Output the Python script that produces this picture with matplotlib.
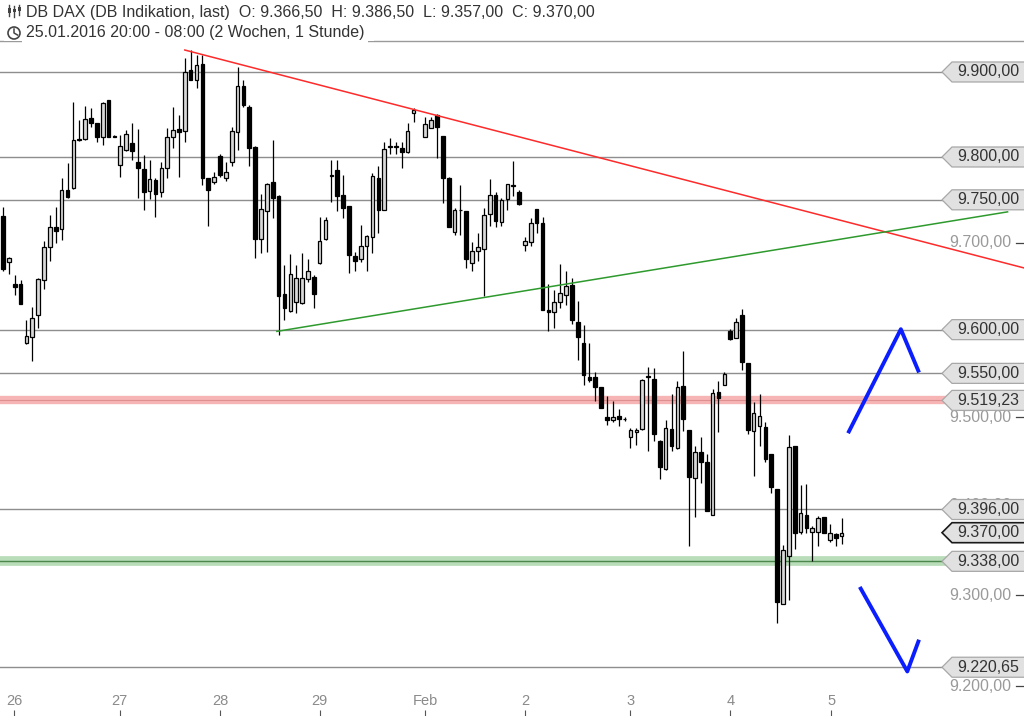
import matplotlib
matplotlib.use('Agg')
import matplotlib.pyplot as plt
import matplotlib.transforms as mtransforms
from matplotlib.patches import Polygon, Rectangle, Circle
from matplotlib.lines import Line2D
from matplotlib.ticker import NullLocator
import numpy as np

plt.rcParams['font.family'] = ['Liberation Sans', 'DejaVu Sans']

# Stundenkerzen DB DAX, 25.01.2016 20:00 - 05.02.2016 08:00 (None = Lücke)
nan = None
opens = [9731, 9678, 9652, 9652, 9585, 9592, 9617, 9657, 9695, 9718,
         9716, 9761, 9764, 9820, 9821, 9846, 9840, 9823, 9867, 9825,
         9791, 9808, 9816, 9794, 9786, 9760, 9773, 9759, 9787, 9823,
         9833, 9831, 9902, 9891, 9909, 9775, 9771, 9801, 9776, 9794,
         9829, 9884, 9859, 9812, 9705, 9737, 9771, 9754, 9641, 9621,
         9632, 9631, 9658, 9660, 9677, 9705, 9778, 9785, 9756, 9743,
         9685, 9681, 9696, 9707, 9776, 9738, 9812, 9812, 9811, 9806,
         9852, nan, 9824, 9834, 9849, 9825, 9775, 9713, 9738, 9737,
         9677, 9691, 9693, 9734, 9756, 9724, 9751, 9766, 9759, 9698,
         9701, 9739, 9723, 9623, 9620, 9632, 9640, 9651, 9609, 9585,
         9546, 9546, 9535, 9500, 9497, 9502, 9498, 9478, 9483, 9487,
         9546, 9544, 9473, 9441, 9487, 9465, 9536, 9486, 9431, 9461,
         9449, 9390, 9529, 9537, 9599, 9590, 9617, 9562, 9485, 9490,
         9489, 9458, 9419, 9291, 9344, 9468, 9371, 9390, 9371, 9371,
         9388, 9362, 9368, 9366.5]
highs = [9742, 9684, 9663, 9657, 9611, 9626, 9659, 9702, 9732, 9742,
         9775, 9793, 9864, 9843, 9860, 9857, 9840, 9864, 9867, 9826,
         9826, 9832, 9840, 9833, 9802, 9796, 9775, 9794, 9834, 9859,
         9849, 9916, 9926, 9920, 9920, 9775, 9783, 9803, 9794, 9835,
         9906, 9891, 9861, 9813, 9757, 9770, 9820, 9756, 9674, 9687,
         9674, 9688, 9681, 9663, 9730, 9730, 9796, 9796, 9779, 9743,
         9690, 9721, 9709, 9781, 9789, 9818, 9822, 9818, 9818, 9840,
         9857, nan, 9847, 9847, 9850, 9825, 9777, 9741, 9767, 9737,
         9701, 9711, 9741, 9774, 9759, 9752, 9769, 9795, 9761, 9707,
         9729, 9739, 9730, 9653, 9646, 9675, 9668, 9659, 9633, 9605,
         9585, 9552, 9535, 9524, 9518, 9509, 9500, 9488, 9488, 9544,
         9557, 9556, 9474, 9497, 9526, 9541, 9575, 9486, 9467, 9478,
         9459, 9532, 9541, 9551, 9601, 9613, 9624, 9562, 9517, 9527,
         9495, 9458, 9419, 9356, 9480, 9468, 9423, 9425, 9377, 9389,
         9388, 9380, 9370, 9386.5]
lows = [9668, 9664, 9640, 9629, 9584, 9564, 9602, 9647, 9679, 9700,
        9703, 9752, 9763, 9819, 9820, 9835, 9817, 9814, 9823, 9823,
        9777, 9807, 9796, 9752, 9738, 9751, 9730, 9753, 9775, 9810,
        9777, 9817, 9890, 9881, 9767, 9719, 9769, 9777, 9772, 9789,
        9808, 9859, 9789, 9683, 9688, 9690, 9729, 9594, 9611, 9620,
        9619, 9630, 9655, 9625, 9676, 9703, 9747, 9737, 9729, 9665,
        9667, 9678, 9667, 9688, 9711, 9738, 9804, 9804, 9787, 9805,
        9841, nan, 9824, 9834, 9799, 9746, 9718, 9709, 9709, 9671,
        9667, 9679, 9639, 9720, 9718, 9719, 9738, 9754, 9744, 9691,
        9696, 9711, 9623, 9599, 9602, 9625, 9628, 9607, 9565, 9537,
        9540, 9518, 9511, 9491, 9495, 9490, 9496, 9465, 9469, 9486,
        9462, 9473, 9430, 9440, 9462, 9464, 9484, 9355, 9388, 9426,
        9394, 9390, 9483, 9537, 9588, 9590, 9554, 9481, 9434, 9468,
        9450, 9415, 9270, 9291, 9295, 9352, 9368, 9370, 9338, 9355,
        9370, 9360, 9355, 9357]
closes = [9670, 9683, 9649, 9630, 9593, 9613, 9658, 9695, 9718, 9714,
          9761, 9753, 9820, 9821, 9844, 9840, 9823, 9863, 9823, 9824,
          9813, 9827, 9807, 9787, 9759, 9774, 9757, 9787, 9823, 9832,
          9829, 9900, 9891, 9908, 9775, 9762, 9777, 9779, 9783, 9831,
          9883, 9861, 9811, 9705, 9739, 9769, 9752, 9639, 9625, 9664,
          9659, 9659, 9667, 9641, 9702, 9727, 9778, 9754, 9741, 9686,
          9679, 9696, 9708, 9778, 9738, 9809, 9813, 9812, 9806, 9831,
          9855, nan, 9839, 9843, 9835, 9775, 9718, 9738, 9738, 9681,
          9691, 9695, 9732, 9756, 9725, 9750, 9769, 9767, 9745, 9702,
          9723, 9723, 9623, 9620, 9632, 9642, 9650, 9611, 9591, 9548,
          9543, 9535, 9511, 9497, 9500, 9498, 9498, 9486, 9486, 9543,
          9547, 9481, 9444, 9488, 9468, 9535, 9498, 9432, 9461, 9449,
          9394, 9528, 9522, 9549, 9589, 9609, 9563, 9486, 9505, 9501,
          9453, 9421, 9293, 9351, 9466, 9370, 9392, 9375, 9375, 9387,
          9370, 9370, 9364, 9370]

day_pos = [1.9, 19.9, 37, 54, 72, 89, 107, 124, 141.2]
day_labels = ['26', '27', '28', '29', 'Feb', '2', '3', '4', '5']

# sichtbare Achsenbeschriftungen (9.600/9.800/9.900 liegen unter den Kästen)
axis_prices = [9200, 9300, 9400, 9500, 9700]
gray_levels = [9900, 9800, 9750, 9600, 9550, 9396, 9220.65]
red_level = 9519.23
green_level = 9338
last_price = 9370

# Trendlinien und Pfeile (Kerzenindex, Kurs)
red_x, red_y = [31.0, 174.1], [9926, 9671]
green_x, green_y = [46.7, 171.3], [9598, 9736]
up_x, up_y = [144.1, 153.1, 156.2], [9482, 9600.5, 9551]
down_x, down_y = [146.1, 154.2, 156.2], [9309.5, 9216, 9251]


def de(v):
    s = f"{v:,.2f}"
    return s.replace(',', 'X').replace('.', ',').replace('X', '.')


W, H = 1024, 716
fig = plt.figure(figsize=(W / 100, H / 100), dpi=100)
ax = fig.add_axes([0, 0, 1, 675 / H])
ax.set_yscale('log')
ax.set_ylim(9167.1, 9936.7)
ax.set_xlim(-0.51, 174.1)
ax.yaxis.set_major_locator(NullLocator())
ax.yaxis.set_minor_locator(NullLocator())
for s in ['left', 'right', 'bottom']:
    ax.spines[s].set_visible(False)
ax.spines['top'].set_color('#9a9a9a')
ax.spines['top'].set_linewidth(1)

# Niveaus
for lv in gray_levels:
    ax.axhline(lv, xmin=0, xmax=0.921, color='#8e8e8e', lw=1.0, zorder=1)
ax.axhline(red_level, xmin=0, xmax=0.921, color='#f6b4b4', lw=6, zorder=1)
ax.axhline(red_level, xmin=0, xmax=0.921, color='#de9090', lw=0.8, zorder=1)
ax.axhline(green_level, xmin=0, xmax=0.921, color='#b9dcb9', lw=7, zorder=1)
ax.axhline(green_level, xmin=0, xmax=0.921, color='#4c874c', lw=1.0, zorder=1)

# Kerzen
w = 0.62
for i, (o, h, l, c) in enumerate(zip(opens, highs, lows, closes)):
    if o is None:
        continue
    ax.vlines(i, l, h, color='black', lw=0.9, zorder=3)
    lo, hi = min(o, c), max(o, c)
    face = '#d9d9d9' if c >= o else 'black'
    ax.add_patch(Rectangle((i - w / 2, lo), w, max(hi - lo, 0.4), facecolor=face,
                           edgecolor='black', lw=0.9, zorder=4))

ax.plot(red_x, red_y, color='#ff2a2a', lw=1.1, zorder=5)
ax.plot(green_x, green_y, color='#2e9a2e', lw=1.1, zorder=5)
ax.plot(up_x, up_y, color='#0a1eff', lw=2.8, zorder=5, solid_capstyle='butt')
ax.plot(down_x, down_y, color='#0a1eff', lw=2.8, zorder=5, solid_capstyle='butt')

# Datumsachse
ax.set_xticks(day_pos)
ax.set_xticklabels(day_labels)
ax.tick_params(axis='x', direction='in', length=4, width=0.8, color='#555555',
               pad=-16, labelsize=10.5, labelcolor='#8a8a8a')
for lab in ax.get_xticklabels():
    lab.set_family(['Liberation Sans Narrow', 'Liberation Sans'])

# Kursachse rechts
blend = mtransforms.blended_transform_factory(ax.transAxes, ax.transData)
for p in axis_prices:
    ax.text(1011 / W, p, de(p), transform=blend, ha='right', va='center',
            fontsize=11.5, color='#9a9a9a', zorder=2)
    ax.plot([1016 / W, 1023 / W], [p, p], transform=blend, color='#444444',
            lw=0.9, clip_on=False, zorder=2)

fig.canvas.draw()


def price_box(value, edge='#a8a8a8', lw=0.9):
    yd = ax.transData.transform((0, value))[1]
    xs = [942, 952, 1030, 1030, 952]
    ys = [yd, yd + 10, yd + 10, yd - 10, yd - 10]
    fig.add_artist(Polygon(np.column_stack([xs, ys]), closed=True,
                           transform=mtransforms.IdentityTransform(),
                           facecolor='#e1e1e1', edgecolor=edge, lw=lw, zorder=6))
    fig.text(957 / W, yd / H, de(value), ha='left', va='center',
             fontsize=11.5, color='#333333', zorder=7)


for lv in gray_levels + [red_level, green_level]:
    price_box(lv)
price_box(last_price, edge='#1a1a1a', lw=1.2)

# Kopfzeile
fig.text(26 / W, 1 - 12 / H,
         'DB DAX (DB Indikation, last)  O: 9.366,50  H: 9.386,50  L: 9.357,00  C: 9.370,00',
         ha='left', va='center', fontsize=11.5, color='#333333')
fig.text(26 / W, 1 - 33 / H, '25.01.2016 20:00 - 08:00 (2 Wochen, 1 Stunde)',
         ha='left', va='center', fontsize=11.5, color='#333333',
         bbox=dict(facecolor='white', edgecolor='none', pad=2.5))
fig.add_artist(Rectangle((4, H - 41), 370, 3, transform=mtransforms.IdentityTransform(),
                         facecolor='white', edgecolor='none', zorder=3))
ident = mtransforms.IdentityTransform()
for xi, (a, b, c0, c1) in zip([9, 14, 19], [(5, 16, 8, 13), (6, 17, 9, 12), (5, 15, 7, 11)]):
    fig.add_artist(Line2D([xi, xi], [H - b, H - a], color='#444444', lw=1, transform=ident))
    fig.add_artist(Rectangle((xi - 1.5, H - c1), 3, c1 - c0, transform=ident,
                             facecolor='#444444', edgecolor='none'))
fig.add_artist(Circle((14, H - 33), 6, transform=ident, facecolor='white',
                      edgecolor='#444444', lw=1.2, zorder=4))
fig.add_artist(Line2D([14, 14, 17.5], [H - 29, H - 33, H - 35], color='#444444', lw=1.1,
                      transform=ident, zorder=5))

fig.savefig('out.png', dpi=100)
